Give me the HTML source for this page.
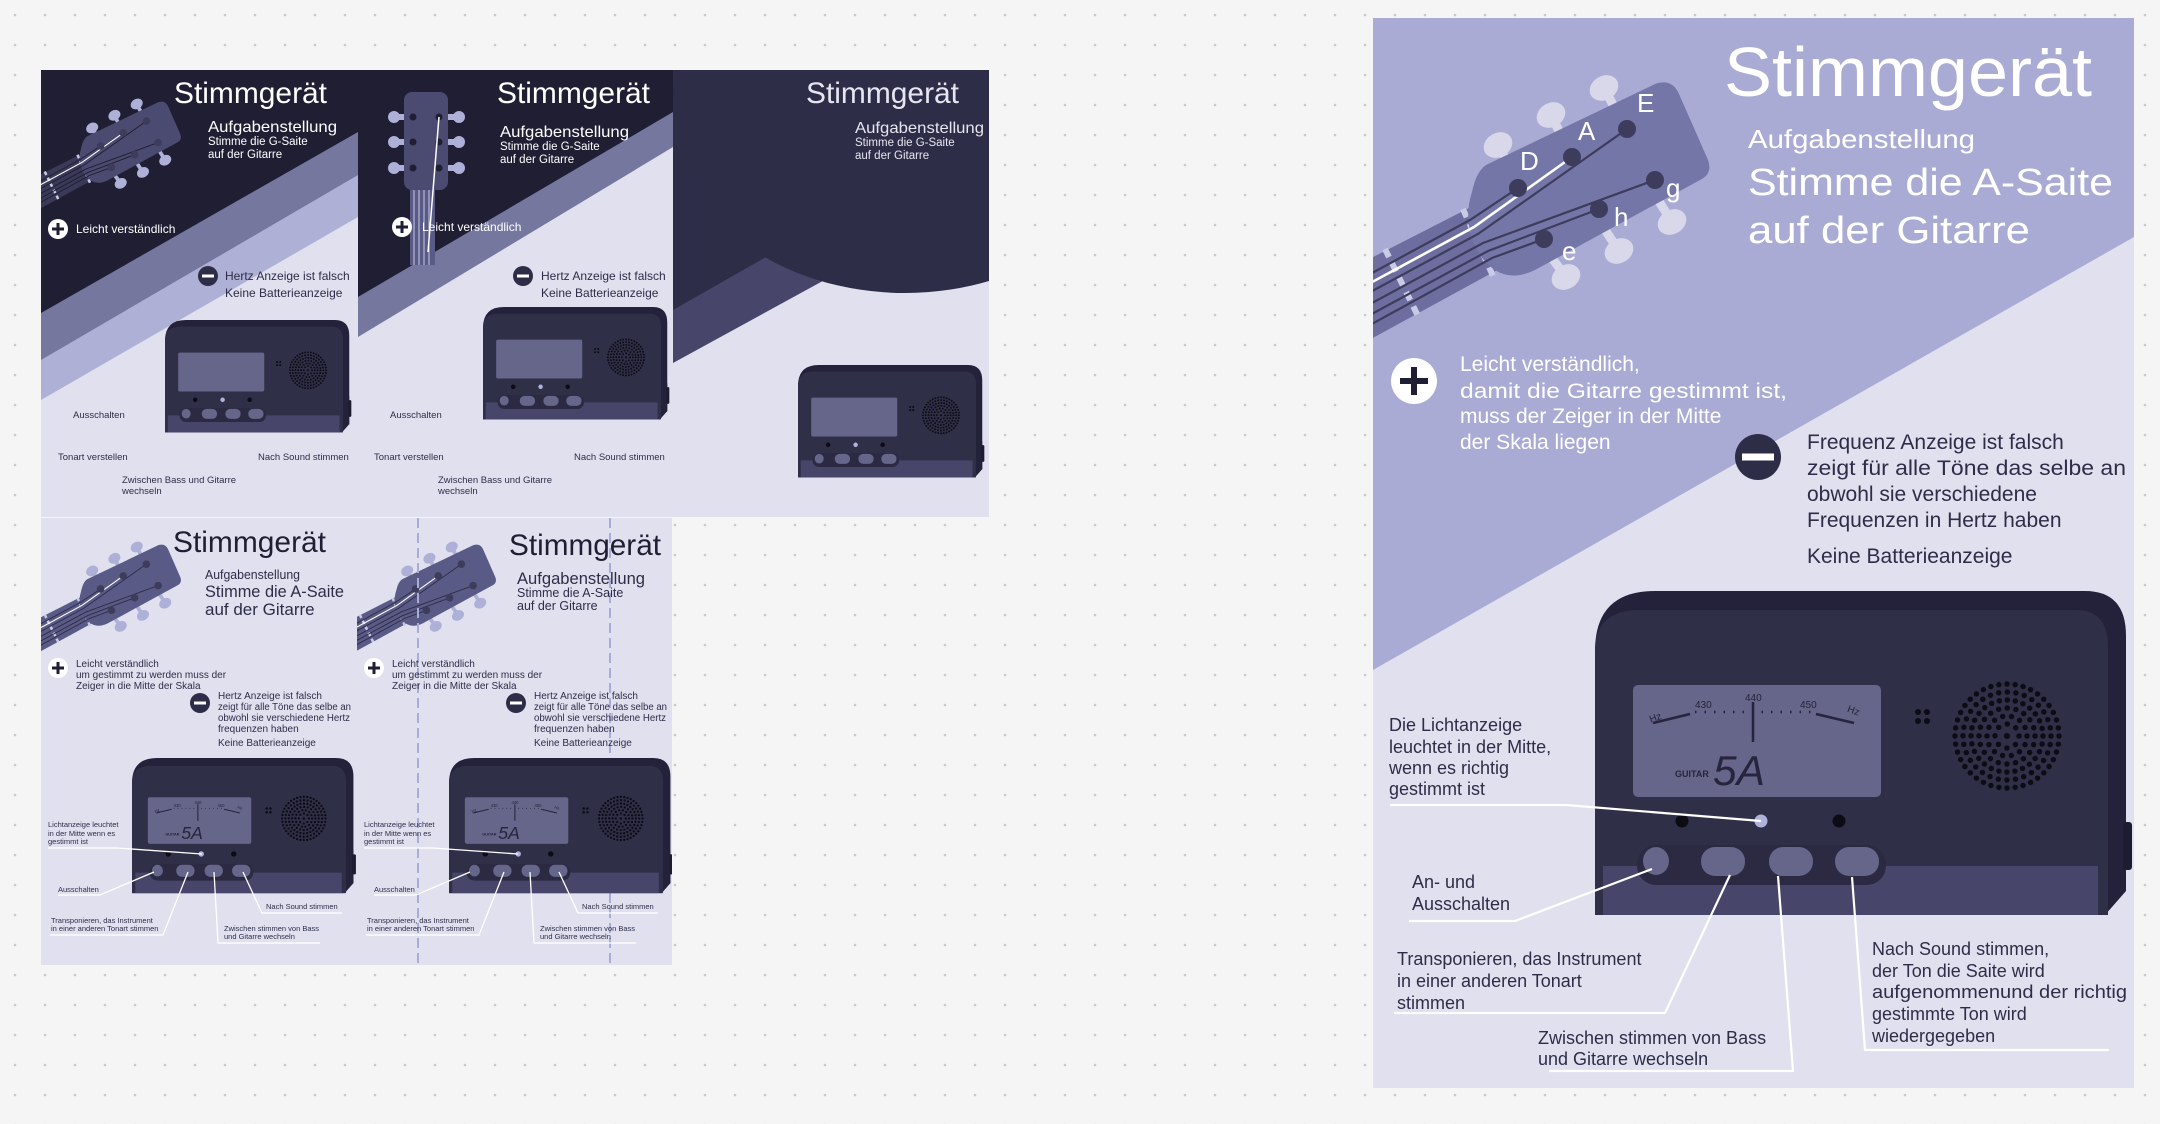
<!DOCTYPE html>
<html><head><meta charset="utf-8">
<style>
html,body{margin:0;padding:0;background:#f5f5f5;}
svg{display:block;}
text{font-family:"Liberation Sans",sans-serif;}
</style></head>
<body>
<svg width="2160" height="1124" viewBox="0 0 2160 1124" xmlns="http://www.w3.org/2000/svg">
<defs>
<pattern id="dots" width="30" height="30" patternUnits="userSpaceOnUse">
<circle cx="15" cy="15" r="1.3" fill="#c9c9c9"/>
</pattern>
<clipPath id="cp1"><rect x="41" y="70" width="317" height="447"/></clipPath>
<clipPath id="cp2"><rect x="358" y="70" width="315" height="447"/></clipPath>
<clipPath id="cp3"><rect x="673" y="70" width="316" height="447"/></clipPath>
<clipPath id="cb1"><rect x="41" y="518" width="316" height="447"/></clipPath>
<clipPath id="cb2"><rect x="357" y="518" width="315" height="447"/></clipPath>
<clipPath id="cbig"><rect x="1373" y="18" width="761" height="1070"/></clipPath>

<g id="guitar">
  <polygon points="1250,320 1471,207 1501,268 1250,405" style="fill:var(--neck)"/>
  <line x1="1385" y1="249" x2="1418" y2="316" stroke="#c9cae6" stroke-width="6" stroke-dasharray="9 7"/>
  <line x1="1463" y1="209" x2="1493" y2="276" stroke="#c9cae6" stroke-width="6" stroke-dasharray="9 7"/>
  <g style="fill:var(--peg);stroke:var(--peg)" stroke-width="9">
    <line x1="1498" y1="145" x2="1515" y2="175"/><line x1="1551" y1="115" x2="1566" y2="145"/><line x1="1604" y1="88" x2="1620" y2="118"/>
    <line x1="1672" y1="222" x2="1655" y2="195"/><line x1="1619" y1="251" x2="1600" y2="222"/><line x1="1566" y1="277" x2="1546" y2="250"/>
    <ellipse cx="1498" cy="145" rx="15" ry="12" stroke="none" transform="rotate(-30 1498 145)"/><ellipse cx="1551" cy="115" rx="15" ry="12" stroke="none" transform="rotate(-30 1551 115)"/><ellipse cx="1604" cy="88" rx="15" ry="12" stroke="none" transform="rotate(-30 1604 88)"/>
    <ellipse cx="1672" cy="222" rx="15" ry="12" stroke="none" transform="rotate(-30 1672 222)"/><ellipse cx="1619" cy="251" rx="15" ry="12" stroke="none" transform="rotate(-30 1619 251)"/><ellipse cx="1566" cy="277" rx="15" ry="12" stroke="none" transform="rotate(-30 1566 277)"/>
  </g>
  <path d="M1486,165 L1655,84 Q1672,78 1679,94 L1708,160 Q1713,174 1700,180 L1535,270 Q1500,287 1478,252 Q1462,222 1472,192 Q1476,172 1486,165 Z" style="fill:var(--head)"/>
  <g stroke-width="2.2" fill="none" style="stroke:var(--str)">
    <polyline points="1518,188 1470,220 1250,339"/>
    <polyline points="1627,129 1478,234 1250,357"/>
    <polyline points="1655,180 1483,243 1250,369"/>
    <polyline points="1599,209 1488,251 1250,380"/>
    <polyline points="1544,239 1492,258 1250,391"/>
  </g>
  <polyline points="1572,157 1474,227 1250,348" stroke="#ffffff" stroke-width="2.6" fill="none"/>
  <g fill="#3d3c5c">
    <circle cx="1518" cy="188" r="9"/><circle cx="1572" cy="157" r="9"/><circle cx="1627" cy="129" r="9"/>
    <circle cx="1655" cy="180" r="9"/><circle cx="1599" cy="209" r="9"/><circle cx="1544" cy="239" r="9"/>
  </g>
</g>

<g id="tuner">
  <path d="M0,60 Q0,0 60,0 L490,0 Q531,0 531,45 L531,300 L510,324 L0,324 Z" fill="#23223a"/>
  <path d="M0,60 Q0,19 45,19 L480,19 Q513,19 513,55 L513,324 L0,324 Z" fill="#302f48"/>
  <rect x="8" y="275" width="495" height="49" fill="#47466a"/>
  <rect x="513" y="220" width="18" height="80" fill="#23223a"/>
  <rect x="528" y="231" width="9" height="48" rx="3" fill="#1d1c30"/>
  <rect x="38" y="94" width="248" height="112" rx="5" fill="#66658a"/>
  <rect x="42" y="254" width="249" height="40" rx="19" fill="#2b2a42"/>
  <g fill="#66658a">
    <ellipse cx="61" cy="270" rx="13" ry="14"/>
    <rect x="106" y="256" width="44" height="29" rx="14"/>
    <rect x="174" y="256" width="44" height="29" rx="14"/>
    <rect x="240" y="256" width="44" height="29" rx="14"/>
  </g>
  <circle cx="87" cy="230" r="6.5" fill="#0c0c14"/>
  <circle cx="166" cy="230" r="6.5" fill="#b0b2dc"/>
  <circle cx="244" cy="230" r="6.5" fill="#0c0c14"/>
  <g fill="#0c0c14"><circle cx="323" cy="121" r="3"/><circle cx="332" cy="121" r="3"/><circle cx="323" cy="130" r="3"/><circle cx="332" cy="130" r="3"/></g>
  <g fill="none" stroke="#0c0c14" stroke-width="5.5" stroke-linecap="round">
    <circle cx="412" cy="145" r="52" stroke-dasharray="0 8.16"/>
    <circle cx="412" cy="145" r="44" stroke-dasharray="0 8.64"/>
    <circle cx="412" cy="145" r="36" stroke-dasharray="0 8.08"/>
    <circle cx="412" cy="145" r="28" stroke-dasharray="0 8.8"/>
    <circle cx="412" cy="145" r="20" stroke-dasharray="0 8.97"/>
    <circle cx="412" cy="145" r="12" stroke-dasharray="0 9.42"/>
  </g>
  <circle cx="412" cy="145" r="3" fill="#0c0c14"/>
</g>

<g id="screen">
  <g stroke="#26253d" stroke-width="2.5" fill="none">
    <line x1="58" y1="132" x2="95" y2="123"/>
    <line x1="221" y1="123" x2="259" y2="132"/>
    <line x1="158" y1="111" x2="158" y2="151"/>
    <line x1="100" y1="121" x2="216" y2="121" stroke-dasharray="1.5 8"/>
  </g>
  <g fill="#26253d" font-size="10">
    <text x="54" y="130" transform="rotate(-20 60 126)">Hz</text>
    <text x="100" y="117">430</text><text x="150" y="110">440</text><text x="205" y="117">450</text>
    <text x="250" y="122" transform="rotate(20 255 126)">Hz</text>
    <text x="80" y="186" font-size="9" font-weight="bold">GUITAR</text>
    <text x="118" y="194" font-size="42" font-family="Liberation Sans Narrow, Liberation Sans" font-style="italic" textLength="52" lengthAdjust="spacingAndGlyphs">5A</text>
  </g>
</g>
</defs>

<rect width="2160" height="1124" fill="#f5f5f5"/>
<rect width="2160" height="1124" fill="url(#dots)"/>

<!-- TOP PANEL 1 -->
<g clip-path="url(#cp1)">
  <rect x="41" y="70" width="317" height="447" fill="#e0e0ef"/>
  <polygon points="41,70 358,70 358,217 41,400" fill="#aeb0d6"/>
  <polygon points="41,70 358,70 358,175 41,360" fill="#76779f"/>
  <polygon points="41,70 358,70 358,132 41,313" fill="#1f1e33"/>
  <use href="#guitar" transform="translate(-537,67) scale(0.42)" style="--neck:#3a3958;--head:#4b4a70;--peg:#aeb0d8;--str:#1f1e33"/>
  <text x="174" y="103" font-size="30" fill="#fff" textLength="153" lengthAdjust="spacingAndGlyphs">Stimmgerät</text>
  <text x="208" y="132" font-size="16" fill="#fff" textLength="129" lengthAdjust="spacingAndGlyphs">Aufgabenstellung</text>
  <text x="208" y="145" font-size="11.5" fill="#fff">Stimme die G-Saite</text>
  <text x="208" y="158" font-size="11.5" fill="#fff">auf der Gitarre</text>
  <circle cx="58" cy="229" r="10" fill="#fff"/><path d="M52,229h12M58,223v12" stroke="#1f1e33" stroke-width="3"/>
  <text x="76" y="233" font-size="12" fill="#fff">Leicht verständlich</text>
  <circle cx="208" cy="276" r="10" fill="#2e2d48"/><rect x="202" y="274.5" width="12" height="3" fill="#fff"/>
  <text x="225" y="280" font-size="12" fill="#2e2d48">Hertz Anzeige ist falsch</text>
  <text x="225" y="297" font-size="12" fill="#2e2d48">Keine Batterieanzeige</text>
  <use href="#tuner" transform="translate(165,320) scale(0.347)"/>
  <g font-size="9.5" fill="#2e2d48">
    <text x="73" y="418">Ausschalten</text>
    <text x="58" y="460">Tonart verstellen</text>
    <text x="258" y="460">Nach Sound stimmen</text>
    <text x="122" y="483">Zwischen Bass und Gitarre</text>
    <text x="122" y="494">wechseln</text>
  </g>
</g>

<!-- TOP PANEL 2 -->
<g clip-path="url(#cp2)">
  <rect x="358" y="70" width="315" height="447" fill="#e0e0ef"/>
  <polygon points="358,70 673,70 673,147 358,337" fill="#76779f"/>
  <polygon points="358,70 673,70 673,112 358,297" fill="#1f1e33"/>
  <rect x="410" y="185" width="25" height="80" fill="#5a5a86"/>
  <g stroke="#c9cae6" stroke-width="1"><line x1="414" y1="180" x2="414" y2="265"/><line x1="419" y1="180" x2="419" y2="265"/><line x1="424" y1="180" x2="424" y2="265"/><line x1="429" y1="180" x2="429" y2="265"/></g>
  <g fill="#aeb0d8">
    <circle cx="394" cy="117" r="6"/><circle cx="394" cy="142" r="6"/><circle cx="394" cy="168" r="6"/>
    <circle cx="459" cy="117" r="6"/><circle cx="459" cy="142" r="6"/><circle cx="459" cy="168" r="6"/>
    <rect x="394" y="114" width="65" height="6"/><rect x="394" y="139" width="65" height="6"/><rect x="394" y="165" width="65" height="6"/>
  </g>
  <rect x="404" y="92" width="44" height="98" rx="8" fill="#4b4a70"/>
  <g fill="#1f1e33"><circle cx="413" cy="117" r="3.5"/><circle cx="413" cy="142" r="3.5"/><circle cx="413" cy="168" r="3.5"/><circle cx="439" cy="117" r="3.5"/><circle cx="439" cy="142" r="3.5"/><circle cx="439" cy="168" r="3.5"/></g>
  <line x1="439" y1="117" x2="428" y2="252" stroke="#fff" stroke-width="1.5"/>
  <text x="497" y="103" font-size="30" fill="#fff" textLength="153" lengthAdjust="spacingAndGlyphs">Stimmgerät</text>
  <text x="500" y="137" font-size="16" fill="#fff" textLength="129" lengthAdjust="spacingAndGlyphs">Aufgabenstellung</text>
  <text x="500" y="150" font-size="11.5" fill="#fff">Stimme die G-Saite</text>
  <text x="500" y="163" font-size="11.5" fill="#fff">auf der Gitarre</text>
  <circle cx="402" cy="227" r="10" fill="#fff"/><path d="M396,227h12M402,221v12" stroke="#1f1e33" stroke-width="3"/>
  <text x="422" y="231" font-size="12" fill="#fff">Leicht verständlich</text>
  <circle cx="523" cy="276" r="10" fill="#2e2d48"/><rect x="517" y="274.5" width="12" height="3" fill="#fff"/>
  <text x="541" y="280" font-size="12" fill="#2e2d48">Hertz Anzeige ist falsch</text>
  <text x="541" y="297" font-size="12" fill="#2e2d48">Keine Batterieanzeige</text>
  <use href="#tuner" transform="translate(483,307) scale(0.347)"/>
  <g font-size="9.5" fill="#2e2d48">
    <text x="390" y="418">Ausschalten</text>
    <text x="374" y="460">Tonart verstellen</text>
    <text x="574" y="460">Nach Sound stimmen</text>
    <text x="438" y="483">Zwischen Bass und Gitarre</text>
    <text x="438" y="494">wechseln</text>
  </g>
</g>

<!-- TOP PANEL 3 -->
<g clip-path="url(#cp3)">
  <rect x="673" y="70" width="316" height="447" fill="#e0e0ef"/>
  <polygon points="673,70 989,70 989,190 673,363" fill="#47466a"/>
  <polygon points="673,70 989,70 989,130 673,310" fill="#2e2d47"/>
  <ellipse cx="905" cy="120" rx="230" ry="173" fill="#2e2d47"/>
  <text x="806" y="103" font-size="30" fill="#e6e6f2" textLength="153" lengthAdjust="spacingAndGlyphs">Stimmgerät</text>
  <text x="855" y="133" font-size="16" fill="#e6e6f2" textLength="129" lengthAdjust="spacingAndGlyphs">Aufgabenstellung</text>
  <text x="855" y="146" font-size="11.5" fill="#e6e6f2">Stimme die G-Saite</text>
  <text x="855" y="159" font-size="11.5" fill="#e6e6f2">auf der Gitarre</text>
  <use href="#tuner" transform="translate(798,365) scale(0.347)"/>
</g>

<!-- BOTTOM PANELS -->
<g clip-path="url(#cb1)">
  <rect x="41" y="518" width="316" height="447" fill="#e0e0ef"/>
  <use href="#guitar" transform="translate(-537,510) scale(0.42)" style="--neck:#5a5a86;--head:#5a5a86;--peg:#aeb0d8;--str:#2e2d48"/>
  <text x="173" y="552" font-size="30" fill="#1f1e33" textLength="153" lengthAdjust="spacingAndGlyphs">Stimmgerät</text>
  <text x="205" y="579" font-size="13" fill="#2e2d48" textLength="95" lengthAdjust="spacingAndGlyphs">Aufgabenstellung</text>
  <text x="205" y="597" font-size="17" fill="#2e2d48" textLength="139" lengthAdjust="spacingAndGlyphs">Stimme die A-Saite</text>
  <text x="205" y="615" font-size="17" fill="#2e2d48">auf der Gitarre</text>
  <circle cx="58" cy="668" r="10" fill="#fff"/><path d="M52,668h12M58,662v12" stroke="#1f1e33" stroke-width="3"/>
  <g font-size="10" fill="#2e2d48">
    <text x="76" y="667">Leicht verständlich</text>
    <text x="76" y="678">um gestimmt zu werden muss der</text>
    <text x="76" y="689">Zeiger in die Mitte der Skala</text>
    <text x="218" y="699">Hertz Anzeige ist falsch</text>
    <text x="218" y="710" textLength="133" lengthAdjust="spacingAndGlyphs">zeigt für alle Töne das selbe an</text>
    <text x="218" y="721" textLength="132" lengthAdjust="spacingAndGlyphs">obwohl sie verschiedene Hertz</text>
    <text x="218" y="732">frequenzen haben</text>
    <text x="218" y="746">Keine Batterieanzeige</text>
  </g>
  <circle cx="200" cy="703" r="10" fill="#2e2d48"/><rect x="194" y="701.5" width="12" height="3" fill="#fff"/>
  <use href="#tuner" transform="translate(132,758) scale(0.417)"/>
  <use href="#screen" transform="translate(132,758) scale(0.417)"/>
  <g font-size="7.5" fill="#2e2d48">
    <text x="48" y="827">Lichtanzeige leuchtet</text><text x="48" y="836">in der Mitte wenn es</text><text x="48" y="844">gestimmt ist</text>
    <text x="58" y="892">Ausschalten</text>
    <text x="51" y="923">Transponieren, das Instrument</text><text x="51" y="931">in einer anderen Tonart stimmen</text>
    <text x="224" y="931">Zwischen stimmen von Bass</text><text x="224" y="939">und Gitarre wechseln</text>
    <text x="266" y="909">Nach Sound stimmen</text>
  </g>
  <g stroke="#fff" stroke-width="1.3" fill="none">
    <polyline points="48,848 117,848 202,854"/>
    <polyline points="58,895 100,895 154,872"/>
    <polyline points="50,935 163,935 188,872"/>
    <polyline points="320,943 218,943 214,872"/>
    <polyline points="342,913 262,913 243,872"/>
  </g>
</g>
<g clip-path="url(#cb2)">
  <rect x="357" y="518" width="315" height="447" fill="#e0e0ef"/>
  <use href="#guitar" transform="translate(-222,510) scale(0.42)" style="--neck:#5a5a86;--head:#5a5a86;--peg:#aeb0d8;--str:#2e2d48"/>
  <line x1="418" y1="518" x2="418" y2="965" stroke="#a9abd8" stroke-width="2" stroke-dasharray="10 5"/>
  <line x1="610" y1="518" x2="610" y2="965" stroke="#a9abd8" stroke-width="2" stroke-dasharray="10 5"/>
  <text x="509" y="555" font-size="30" fill="#1f1e33" textLength="152" lengthAdjust="spacingAndGlyphs">Stimmgerät</text>
  <text x="517" y="584" font-size="17" fill="#2e2d48" textLength="128" lengthAdjust="spacingAndGlyphs">Aufgabenstellung</text>
  <text x="517" y="597" font-size="12.5" fill="#2e2d48">Stimme die A-Saite</text>
  <text x="517" y="610" font-size="12.5" fill="#2e2d48">auf der Gitarre</text>
  <circle cx="374" cy="668" r="10" fill="#fff"/><path d="M368,668h12M374,662v12" stroke="#1f1e33" stroke-width="3"/>
  <g font-size="10" fill="#2e2d48">
    <text x="392" y="667">Leicht verständlich</text>
    <text x="392" y="678">um gestimmt zu werden muss der</text>
    <text x="392" y="689">Zeiger in die Mitte der Skala</text>
    <text x="534" y="699">Hertz Anzeige ist falsch</text>
    <text x="534" y="710" textLength="133" lengthAdjust="spacingAndGlyphs">zeigt für alle Töne das selbe an</text>
    <text x="534" y="721" textLength="132" lengthAdjust="spacingAndGlyphs">obwohl sie verschiedene Hertz</text>
    <text x="534" y="732">frequenzen haben</text>
    <text x="534" y="746">Keine Batterieanzeige</text>
  </g>
  <circle cx="516" cy="703" r="10" fill="#2e2d48"/><rect x="510" y="701.5" width="12" height="3" fill="#fff"/>
  <use href="#tuner" transform="translate(449,758) scale(0.417)"/>
  <use href="#screen" transform="translate(449,758) scale(0.417)"/>
  <g font-size="7.5" fill="#2e2d48">
    <text x="364" y="827">Lichtanzeige leuchtet</text><text x="364" y="836">in der Mitte wenn es</text><text x="364" y="844">gestimmt ist</text>
    <text x="374" y="892">Ausschalten</text>
    <text x="367" y="923">Transponieren, das Instrument</text><text x="367" y="931">in einer anderen Tonart stimmen</text>
    <text x="540" y="931">Zwischen stimmen von Bass</text><text x="540" y="939">und Gitarre wechseln</text>
    <text x="582" y="909">Nach Sound stimmen</text>
  </g>
  <g stroke="#fff" stroke-width="1.3" fill="none">
    <polyline points="364,848 433,848 518,854"/>
    <polyline points="374,895 416,895 470,872"/>
    <polyline points="366,935 479,935 504,872"/>
    <polyline points="636,943 534,943 530,872"/>
    <polyline points="658,913 578,913 559,872"/>
  </g>
</g>

<!-- BIG PANEL -->
<g clip-path="url(#cbig)">
  <rect x="1373" y="18" width="761" height="1070" fill="#e0e0ef"/>
  <polygon points="1373,18 2134,18 2134,237 1373,670" fill="#a9abd4"/>
  <use href="#guitar" style="--neck:#6d6e9f;--head:#7576a8;--peg:#d8d8ea;--str:#3d3c5c"/>
  <g font-size="26" fill="#fff">
    <text x="1520" y="170">D</text><text x="1578" y="140">A</text><text x="1637" y="112">E</text>
    <text x="1666" y="197">g</text><text x="1614" y="226">h</text><text x="1562" y="260">e</text>
  </g>
  <text x="1724" y="96" font-size="70" fill="#fff" textLength="368" lengthAdjust="spacingAndGlyphs">Stimmgerät</text>
  <text x="1748" y="148" font-size="26" fill="#fff" textLength="227" lengthAdjust="spacingAndGlyphs">Aufgabenstellung</text>
  <text x="1748" y="195" font-size="38" fill="#fff" textLength="365" lengthAdjust="spacingAndGlyphs">Stimme die A-Saite</text>
  <text x="1748" y="243" font-size="38" fill="#fff" textLength="282" lengthAdjust="spacingAndGlyphs">auf der Gitarre</text>
  <circle cx="1414" cy="381" r="23" fill="#fff"/><path d="M1400,381h28M1414,367v28" stroke="#1f1e33" stroke-width="6"/>
  <g font-size="21" fill="#fff">
    <text x="1460" y="371">Leicht verständlich,</text>
    <text x="1460" y="398" textLength="327" lengthAdjust="spacingAndGlyphs">damit die Gitarre gestimmt ist,</text>
    <text x="1460" y="423">muss der Zeiger in der Mitte</text>
    <text x="1460" y="449">der Skala liegen</text>
  </g>
  <circle cx="1758" cy="457" r="23" fill="#2e2d48"/><rect x="1742" y="453.5" width="32" height="7" fill="#fff"/>
  <g font-size="21" fill="#2e2d48">
    <text x="1807" y="449">Frequenz Anzeige ist falsch</text>
    <text x="1807" y="475" textLength="319" lengthAdjust="spacingAndGlyphs">zeigt für alle Töne das selbe an</text>
    <text x="1807" y="501">obwohl sie verschiedene</text>
    <text x="1807" y="527">Frequenzen in Hertz haben</text>
    <text x="1807" y="563">Keine Batterieanzeige</text>
  </g>
  <use href="#tuner" transform="translate(1595,591)"/>
  <use href="#screen" transform="translate(1595,591)"/>
  <g font-size="18" fill="#2e2d48">
    <text x="1389" y="731">Die Lichtanzeige</text>
    <text x="1389" y="753">leuchtet in der Mitte,</text>
    <text x="1389" y="774">wenn es richtig</text>
    <text x="1389" y="795">gestimmt ist</text>
    <text x="1412" y="888">An- und</text>
    <text x="1412" y="910">Ausschalten</text>
    <text x="1397" y="965">Transponieren, das Instrument</text>
    <text x="1397" y="987">in einer anderen Tonart</text>
    <text x="1397" y="1009">stimmen</text>
    <text x="1538" y="1044">Zwischen stimmen von Bass</text>
    <text x="1538" y="1065">und Gitarre wechseln</text>
    <text x="1872" y="955">Nach Sound stimmen,</text>
    <text x="1872" y="977">der Ton die Saite wird</text>
    <text x="1872" y="998" textLength="255" lengthAdjust="spacingAndGlyphs">aufgenommenund der richtig</text>
    <text x="1872" y="1020">gestimmte Ton wird</text>
    <text x="1872" y="1042">wiedergegeben</text>
  </g>
  <g stroke="#fff" stroke-width="2.2" fill="none">
    <polyline points="1390,805 1566,805 1761,821"/>
    <polyline points="1409,921 1515,921 1652,869"/>
    <polyline points="1394,1013 1665,1013 1730,875"/>
    <polyline points="1549,1071 1793,1071 1778,876"/>
    <polyline points="2109,1050 1865,1050 1852,877"/>
  </g>
</g>
</svg>
</body></html>
